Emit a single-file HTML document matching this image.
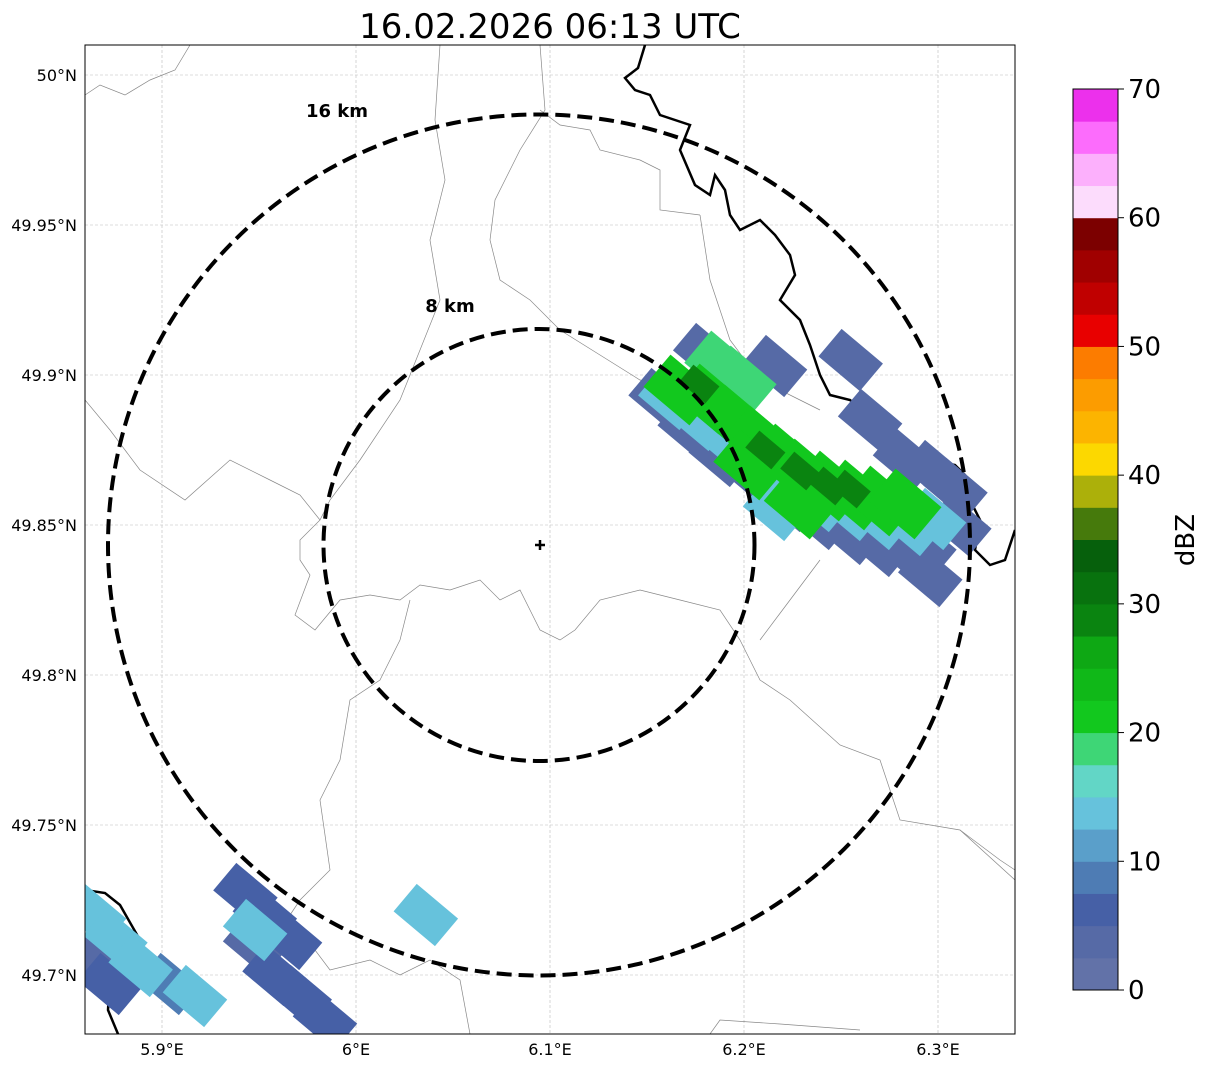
<!DOCTYPE html>
<html><head><meta charset="utf-8"><style>
body{margin:0;background:#fff;font-family:"DejaVu Sans","Liberation Sans",sans-serif}
svg text{font-family:"DejaVu Sans","Liberation Sans",sans-serif}
</style></head><body>
<svg id="chart" width="1207" height="1069" xmlns="http://www.w3.org/2000/svg">
<text x="550" y="38" font-size="34" text-anchor="middle">16.02.2026 06:13 UTC</text>
<defs><clipPath id="mapclip"><rect x="85" y="45" width="930" height="989"/></clipPath></defs>
<g id="grid"></g>
<g id="borders" clip-path="url(#mapclip)"></g>
<g id="echoes" clip-path="url(#mapclip)"></g>
<g id="rings" clip-path="url(#mapclip)"></g>
<rect x="85" y="45" width="930" height="989" fill="none" stroke="#000" stroke-width="1"/>
<g id="axes"></g>
<g id="cbar"></g>
</svg>
<script>
const lonTicks=[5.9,6.0,6.1,6.2,6.3];
const lonLabels=["5.9°E","6°E","6.1°E","6.2°E","6.3°E"];
const latTicks=[50,49.95,49.9,49.85,49.8,49.75,49.7];
const latLabels=["50°N","49.95°N","49.9°N","49.85°N","49.8°N","49.75°N","49.7°N"];
const cellLon=[6.157,6.172,6.188,6.208,6.224,6.239,6.255,6.270,6.286,6.296,6.180,6.216,6.255,6.265,6.283,6.298,6.309,6.311,6.293,
5.943,5.953,5.948,5.958,5.971,5.984,5.868,5.873,5.904,5.966,
6.162,6.177,6.193,6.208,6.224,6.239,6.255,6.270,6.286,6.298,6.216,6.188,
5.865,5.876,5.889,5.948,5.917,6.036,
6.198,6.188,
6.167,6.182,6.195,6.208,6.221,6.231,6.244,6.257,6.270,6.283,6.203,6.229,
6.211,6.229,6.244,6.255,6.177];
const cellLat=[49.892,49.882,49.873,49.865,49.858,49.852,49.847,49.843,49.840,49.833,49.907,49.903,49.905,49.885,49.872,49.868,49.862,49.850,49.843,
49.727,49.720,49.710,49.700,49.693,49.685,49.705,49.697,49.697,49.712,
49.892,49.885,49.877,49.870,49.863,49.858,49.855,49.852,49.850,49.852,49.855,49.900,
49.720,49.712,49.703,49.715,49.693,49.720,
49.898,49.903,
49.895,49.892,49.885,49.878,49.872,49.867,49.863,49.860,49.858,49.857,49.870,49.857,
49.875,49.868,49.863,49.862,49.897];
const cellDbz=[4,4,4,4,4,4,4,4,4,4,4,4,4,4,4,4,4,4,4,
6,6,4,6,6,6,4,6,8,6,
13,13,13,13,13,13,13,13,13,13,13,13,
13,13,13,13,13,13,
18,18,
22,22,22,22,22,22,22,22,22,22,22,22,
28,28,28,28,28];
const cbarColors=["#6272a8","#566aa6","#4660a6","#4e7cb4","#5a9fca","#66c2dc","#62d6c6","#3ed676","#12c81e","#10b818","#0ea814","#0a8410","#08720e","#06600c","#467a0c","#acb00a","#fcd800","#fcb400","#fc9c00","#fc7c00","#e80000","#c00000","#a00000","#7c0000","#fcdcfc","#fcb0fc","#fc6cfc","#ec30ec"];
const cbarTicks=[0,10,20,30,40,50,60,70];
const NS="http://www.w3.org/2000/svg";
const X=lon=>550+(lon-6.1)*1940;
const Y=lat=>525-(lat-49.85)*3000;
function mk(tag,attrs,parent){const e=document.createElementNS(NS,tag);for(const k in attrs)e.setAttribute(k,attrs[k]);parent.appendChild(e);return e;}
const grid=document.getElementById('grid'),axes=document.getElementById('axes');
lonTicks.forEach((v,i)=>{
 const l=mk('line',{x1:X(v),x2:X(v),y1:45,y2:1034,stroke:'#bbb','stroke-width':0.6,'stroke-dasharray':'3,2'},grid);
 
 
 const t=mk('text',{x:X(v),y:1055,'font-size':16,'text-anchor':'middle'},axes);t.textContent=lonLabels[i];
 
 
});
latTicks.forEach((v,i)=>{
 const l=mk('line',{x1:85,x2:1015,y1:Y(v),y2:Y(v),stroke:'#bbb','stroke-width':0.6,'stroke-dasharray':'3,2'},grid);
 
 
 const t=mk('text',{x:77,y:Y(v)+6,'font-size':16,'text-anchor':'end'},axes);t.textContent=latLabels[i];
 
 
});
const borders=document.getElementById('borders');
const thin=["85,95 100,85 125,95 150,80 175,70 190,45","85,400 110,430 140,470 185,500 230,460 270,480 300,495 320,520 300,540 300,560 310,575 295,615 315,630 340,600 370,595 400,600 420,585 450,590 480,580 500,600 520,590 540,630 560,640 575,630 600,600 640,590 680,600 720,610 740,640 760,680 790,700 840,745 880,760 900,820 960,830 1015,880",
"440,45 435,120 445,180 430,240 440,300 420,350 400,400 360,460 330,500 320,520","540,45 545,110 520,150 495,200 490,240 500,280 530,300 560,330 600,355 640,380 660,385",
"540,110 560,125 590,130 600,150 640,160 660,170 660,210 700,215","410,600 400,640 380,680 350,700 340,760 320,800 330,870 300,900 280,930","700,215 710,280 730,340 760,380 800,400 820,410",
"250,950 300,930 330,970 370,960 400,975 430,960 460,980 470,1034","710,1034 720,1020 780,1024 860,1030","960,830 1000,860 1015,870","820,560 790,600 760,640"];
thin.forEach(p=>{const e=mk('polyline',{points:p,fill:'none',stroke:'#888','stroke-width':0.7},borders);
 
 });
const thick=["645,45 638,68 625,78 635,90 650,95 660,115 690,125 680,150 695,185 710,195 715,175 725,190 730,215 740,230 760,220 775,235 790,255 795,275 780,300 800,320 810,345 820,375 830,395 850,400 875,420 900,440 930,460 955,465 965,475 970,500 980,520 975,550 990,565 1005,560 1015,530","85,890 105,893 120,905 140,940 125,955 110,975 108,1010 118,1034"];
thick.forEach(p=>{const e=mk('polyline',{points:p,fill:'none',stroke:'#000','stroke-width':2.5},borders);
 
 });
function colorFor(d){return cbarColors[Math.min(cbarColors.length-1,Math.floor(d/2.5))];}
const ech=document.getElementById('echoes');
const order=cellDbz.map((d,i)=>i).sort((a,b)=>cellDbz[a]-cellDbz[b]);
order.forEach(i=>{const d=cellDbz[i];const w=d>=28?34:(d>=18?60:54),h=d>=28?22:(d>=18?42:36);
 const cx=X(cellLon[i]),cy=Y(cellLat[i]);
 const r=mk('rect',{x:cx-w/2,y:cy-h/2,width:w,height:h,fill:colorFor(d),transform:`rotate(40 ${cx} ${cy})`},ech);
 
 });
const rings=document.getElementById('rings');
[[215.5,216,'inner-ring'],[431,430.5,'outer-ring']].forEach(([rx,ry,n])=>{
 const e=mk('ellipse',{cx:539,cy:545,rx:rx,ry:ry,fill:'none',stroke:'#000','stroke-width':4,'stroke-dasharray':'15,7'},rings);
 
 });
const t16=mk('text',{x:337,y:117,'font-size':18,'font-weight':'bold','text-anchor':'middle'},rings);t16.textContent='16 km';


const t8=mk('text',{x:450,y:312,'font-size':18,'font-weight':'bold','text-anchor':'middle'},rings);t8.textContent='8 km';


const cm=mk('path',{d:'M535 545 H545 M540 540 V550',stroke:'#000','stroke-width':2.5},rings);


const cb=document.getElementById('cbar');
const cy0=990,ch=901,bh=ch/70*2.5;
cbarColors.forEach((c,i)=>{const r=mk('rect',{x:1073,y:cy0-(i+1)*bh,width:45,height:bh+0.5,fill:c},cb);
 
 });
mk('rect',{x:1073,y:89,width:45,height:901,fill:'none',stroke:'#000','stroke-width':1},cb);
cbarTicks.forEach(v=>{const y=cy0-v/70*ch;
 mk('line',{x1:1118,x2:1124,y1:y,y2:y,stroke:'#000'},cb);
 const t=mk('text',{x:1128,y:y+9,'font-size':26},cb);t.textContent=v;
 
 });
const lab=mk('text',{x:1194,y:540,'font-size':26,'text-anchor':'middle',transform:'rotate(-90 1194 540)'},cb);lab.textContent='dBZ';


</script>
</body></html>
